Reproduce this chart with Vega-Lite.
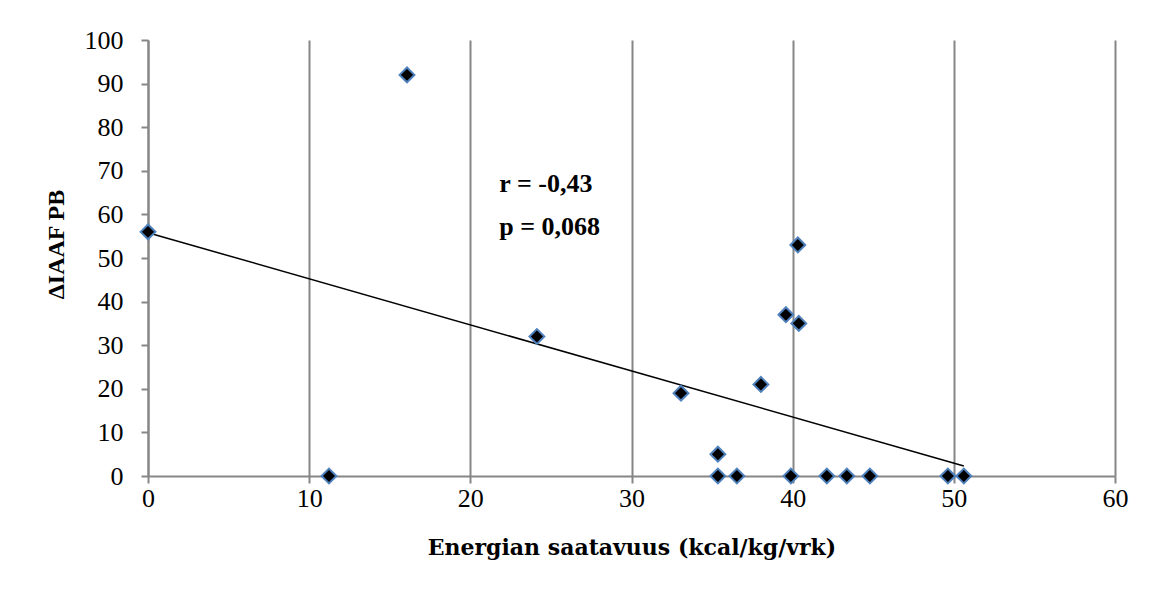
{
  "$schema": "https://vega.github.io/schema/vega-lite/v6.json",
  "width": 967,
  "height": 436,
  "autosize": {"type": "none"},
  "padding": {"left": 148, "top": 40, "right": 37, "bottom": 115},
  "background": "white",
  "config": {
    "view": {"stroke": null},
    "font": "Liberation Serif"
  },
  "datasets": {
    "pts": [
      {"x": 0, "y": 56},
      {"x": 11.23, "y": 0},
      {"x": 16.07, "y": 92},
      {"x": 24.13, "y": 32},
      {"x": 33.07, "y": 19},
      {"x": 35.36, "y": 5},
      {"x": 35.36, "y": 0},
      {"x": 36.54, "y": 0},
      {"x": 38.03, "y": 21},
      {"x": 39.58, "y": 37},
      {"x": 40.32, "y": 53},
      {"x": 40.38, "y": 35},
      {"x": 39.89, "y": 0},
      {"x": 42.12, "y": 0},
      {"x": 43.36, "y": 0},
      {"x": 44.79, "y": 0},
      {"x": 49.63, "y": 0},
      {"x": 50.62, "y": 0}
    ],
    "trend": [
      {"x": 0, "y": 55.8},
      {"x": 50.62, "y": 2.3}
    ],
    "notes": [
      {"x": 21.8, "y": 67, "t": "r = -0,43"},
      {"x": 21.8, "y": 57, "t": "p = 0,068"}
    ]
  },
  "layer": [
    {
      "data": {"name": "trend"},
      "mark": {"type": "line", "color": "black", "strokeWidth": 1.5},
      "encoding": {
        "x": {
          "field": "x", "type": "quantitative",
          "scale": {"domain": [0, 60], "nice": false, "zero": false},
          "axis": {
            "values": [0, 10, 20, 30, 40, 50, 60],
            "labelFlush": false,
            "grid": true, "gridColor": "#868686", "gridWidth": 2,
            "domainColor": "#868686", "domainWidth": 2,
            "tickColor": "#868686", "tickWidth": 2, "tickSize": 7,
            "labelFont": "Liberation Serif", "labelFontSize": 26, "labelColor": "black",
            "labelPadding": 2,
            "title": "Energian saatavuus (kcal/kg/vrk)",
            "titleFont": "DejaVu Serif", "titleFontSize": 22, "titleFontWeight": "bold", "titleColor": "black",
            "titlePadding": 26
          }
        },
        "y": {
          "field": "y", "type": "quantitative",
          "scale": {"domain": [0, 100], "nice": false},
          "axis": {
            "values": [0, 10, 20, 30, 40, 50, 60, 70, 80, 90, 100],
            "labelFlush": false,
            "grid": false,
            "domainColor": "#868686", "domainWidth": 2,
            "tickColor": "#868686", "tickWidth": 2, "tickSize": 7,
            "labelFont": "Liberation Serif", "labelFontSize": 26, "labelColor": "black",
            "labelPadding": 18,
            "title": "ΔIAAF PB",
            "titleFont": "Liberation Serif", "titleFontSize": 24, "titleFontWeight": "bold", "titleColor": "black",
            "titlePadding": 16,
            "titleY": 204
          }
        }
      }
    },
    {
      "data": {"name": "pts"},
      "mark": {"type": "point", "shape": "diamond", "filled": true, "fill": "black", "stroke": "#4f81bd", "strokeWidth": 2, "size": 220, "opacity": 1},
      "encoding": {
        "x": {"field": "x", "type": "quantitative"},
        "y": {"field": "y", "type": "quantitative"}
      }
    },
    {
      "data": {"name": "notes"},
      "mark": {"type": "text", "align": "left", "baseline": "middle", "font": "Liberation Serif", "fontSize": 26, "fontWeight": "bold", "color": "black"},
      "encoding": {
        "x": {"field": "x", "type": "quantitative"},
        "y": {"field": "y", "type": "quantitative"},
        "text": {"field": "t"}
      }
    }
  ]
}
